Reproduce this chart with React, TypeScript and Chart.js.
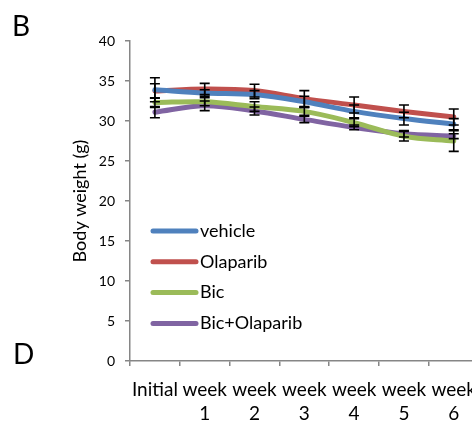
import React, { useEffect, useRef } from "react";
import { Chart, registerables } from "chart.js";

Chart.register(...registerables);

const categories: (string | string[])[] = [
  "Initial",
  ["week", "1"],
  ["week", "2"],
  ["week", "3"],
  ["week", "4"],
  ["week", "5"],
  ["week", "6"],
];

const seriesNames = ["vehicle", "Olaparib", "Bic", "Bic+Olaparib"];
const seriesColors = ["#4F81BD", "#C0504D", "#9BBB59", "#8064A2"];

const vehicle = [33.9, 33.5, 33.3, 32.4, 31.2, 30.3, 29.6];
const olaparib = [33.75, 34.0, 33.8, 32.8, 32.0, 31.2, 30.5];
const bic = [32.3, 32.4, 31.8, 31.2, 29.8, 28.1, 27.5];
const bicOlaparib = [31.1, 31.9, 31.25, 30.2, 29.2, 28.4, 28.1];

const vehicleErr = [1.5, 0.4, 0.5, 0.7, 0.8, 0.8, 0.7];
const olaparibErr = [0.9, 0.7, 0.8, 1.0, 1.0, 0.8, 1.0];
const bicErr = [0.6, 0.5, 0.6, 0.5, 0.5, 0.6, 1.3];
const bicOlaparibErr = [0.7, 0.6, 0.5, 0.4, 0.3, 0.4, 0.3];

const yTicks = [0, 5, 10, 15, 20, 25, 30, 35, 40];

const FONT = "Lato, 'Open Sans', sans-serif";

const seriesValues = [vehicle, olaparib, bic, bicOlaparib];
const seriesErrors = [vehicleErr, olaparibErr, bicErr, bicOlaparibErr];

const errorBarPlugin = {
  id: "errorBars",
  afterDatasetsDraw(chart: any) {
    const { ctx, scales } = chart;
    const x = scales.x;
    const y = scales.y;
    ctx.save();
    ctx.strokeStyle = "#000";
    ctx.lineWidth = 1.6;
    chart.data.datasets.forEach((ds: any, di: number) => {
      const errs = seriesErrors[di];
      ds.data.forEach((v: number, i: number) => {
        const px = x.getPixelForValue(i);
        const top = y.getPixelForValue(v + errs[i]);
        const bot = y.getPixelForValue(v - errs[i]);
        ctx.beginPath();
        ctx.moveTo(px, top);
        ctx.lineTo(px, bot);
        ctx.moveTo(px - 5, top);
        ctx.lineTo(px + 5, top);
        ctx.moveTo(px - 5, bot);
        ctx.lineTo(px + 5, bot);
        ctx.stroke();
      });
    });
    ctx.restore();
  },
};

const legendPlugin = {
  id: "innerLegend",
  afterDraw(chart: any) {
    const { ctx, chartArea } = chart;
    ctx.save();
    ctx.font = `18px ${FONT}`;
    ctx.textBaseline = "middle";
    ctx.textAlign = "left";
    chart.data.datasets.forEach((ds: any, i: number) => {
      const yy = chartArea.top + 190 + i * 30.8;
      const x0 = chartArea.left + 23;
      ctx.strokeStyle = ds.borderColor;
      ctx.lineWidth = 5;
      ctx.lineCap = "round";
      ctx.beginPath();
      ctx.moveTo(x0, yy);
      ctx.lineTo(x0 + 43, yy);
      ctx.stroke();
      ctx.fillStyle = "#000";
      ctx.fillText(ds.label, x0 + 47, yy);
    });
    ctx.restore();
  },
};

export default function App() {
  const ref = useRef<HTMLCanvasElement | null>(null);
  useEffect(() => {
    if (!ref.current) return;
    const chart = new Chart(ref.current, {
      type: "line",
      data: {
        labels: categories as any,
        datasets: seriesValues.map((vals, i) => ({
          label: seriesNames[i],
          data: vals,
          borderColor: seriesColors[i],
          backgroundColor: seriesColors[i],
          borderWidth: 5,
          pointRadius: 0,
          tension: 0.35,
          borderCapStyle: "round" as const,
        })),
      },
      options: {
        responsive: false,
        animation: false,
        devicePixelRatio: 1,
        layout: { padding: { left: 0, right: 0, top: 41, bottom: 0 } },
        plugins: {
          legend: { display: false },
          tooltip: { enabled: false },
        },
        scales: {
          x: {
            offset: true,
            afterFit(scale: any) {
              scale.height = 62;
            },
            grid: {
              display: true,
              offset: true,
              drawOnChartArea: false,
              drawTicks: true,
              tickLength: 5,
              color: "#868686",
              lineWidth: 1.5,
            },
            border: { color: "#868686", width: 1.5 },
            ticks: {
              color: "#000",
              font: { family: FONT, size: 19, lineHeight: 1.27 },
              padding: 12,
              maxRotation: 0,
              autoSkip: false,
            },
          },
          y: {
            min: 0,
            max: 40,
            afterBuildTicks(scale: any) {
              scale.ticks = yTicks.map((v) => ({ value: v }));
            },
            afterFit(scale: any) {
              scale.width = 130;
            },
            grid: {
              display: true,
              drawOnChartArea: false,
              drawTicks: true,
              tickLength: 5,
              color: "#868686",
              lineWidth: 1.5,
            },
            border: { color: "#868686", width: 1.5 },
            ticks: {
              color: "#000",
              font: { family: FONT, size: 14 },
              padding: 10,
            },
            title: {
              display: true,
              text: "Body weight (g)",
              color: "#000",
              font: { family: FONT, size: 18 },
              padding: { top: 69, bottom: 0 },
            },
          },
        },
      },
      plugins: [errorBarPlugin, legendPlugin],
    });
    return () => chart.destroy();
  }, []);

  return (
    <div
      style={{
        position: "fixed",
        left: 0,
        top: 0,
        width: 472,
        height: 423,
        overflow: "hidden",
        background: "#fff",
      }}
    >
      <canvas ref={ref} width={488} height={423} style={{ display: "block" }} />
      <div
        style={{
          position: "absolute",
          left: 12,
          top: 9,
          fontFamily: FONT,
          fontSize: 28,
          lineHeight: "32px",
          color: "#000",
        }}
      >
        B
      </div>
      <div
        style={{
          position: "absolute",
          left: 13,
          top: 337,
          fontFamily: FONT,
          fontSize: 28,
          lineHeight: "32px",
          color: "#000",
        }}
      >
        D
      </div>
    </div>
  );
}
